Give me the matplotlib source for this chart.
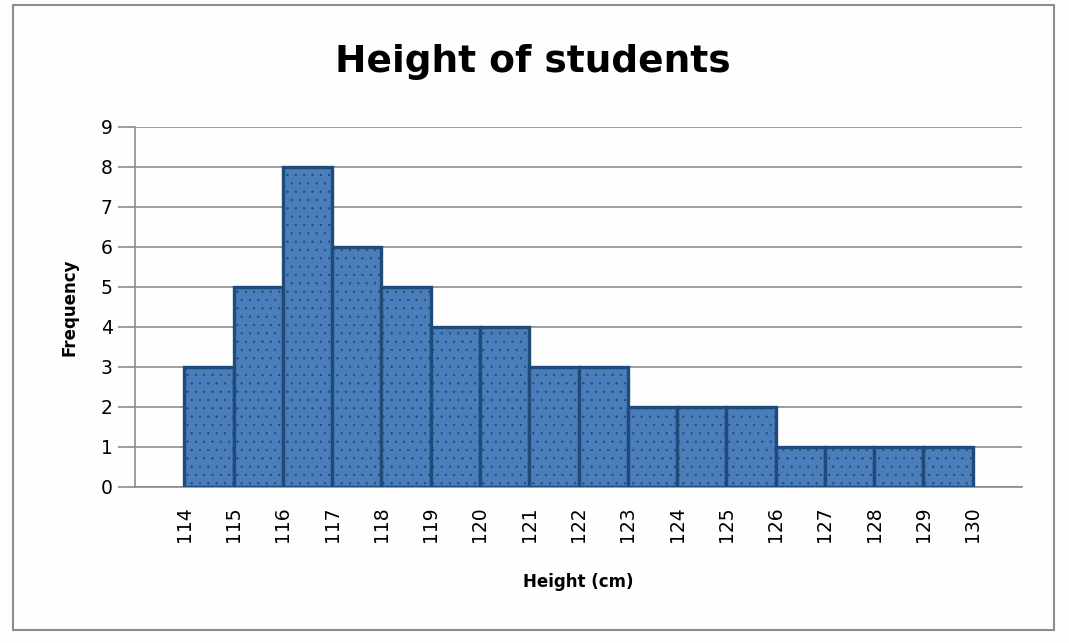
import matplotlib
matplotlib.use('Agg')
import matplotlib.pyplot as plt
from matplotlib.patches import Rectangle

# 데이터
bin_edges = list(range(114, 131))
frequency = [3, 5, 8, 6, 5, 4, 4, 3, 3, 2, 2, 2, 1, 1, 1, 1]
y_ticks = list(range(0, 10))

plt.rcParams['font.family'] = ['DejaVu Sans']
plt.rcParams['hatch.linewidth'] = 0.4

fig = plt.figure(figsize=(10.69, 6.43), dpi=100)
fig.patch.set_facecolor('#fdfefd')

# 바깥 테두리
fig.add_artist(Rectangle((13 / 1069, 1 - 630 / 643), (1054 - 13) / 1069, (630 - 5) / 643,
                         transform=fig.transFigure, fill=False, edgecolor='#8c8c8c', linewidth=1.5))

ax = fig.add_axes([135 / 1069, 1 - 487 / 643, (1022 - 135) / 1069, (487 - 127) / 643])
ax.set_facecolor('none')

ax.bar(bin_edges[:-1], frequency, width=1, align='edge', color='#4a7ebb',
       edgecolor='#1f4a7a', linewidth=2.4, hatch='..', zorder=3)

ax.set_xlim(113, 131)
ax.set_ylim(0, 9)
ax.set_xticks(bin_edges)
ax.set_xticklabels([str(v) for v in bin_edges], rotation=90, fontsize=13.5)
ax.set_yticks(y_ticks)
ax.set_yticklabels([str(v) for v in y_ticks], fontsize=13.5)
ax.tick_params(axis='x', length=0, pad=14)
ax.tick_params(axis='y', length=12, width=1.2, color='#8c8c8c', pad=4)

ax.grid(axis='y', color='#8c8c8c', linewidth=1.2, zorder=0)
for side in ['top', 'right']:
    ax.spines[side].set_visible(False)
ax.spines['left'].set_color('#8c8c8c')
ax.spines['left'].set_linewidth(1.2)
ax.spines['bottom'].set_color('#8c8c8c')
ax.spines['bottom'].set_linewidth(1.2)

fig.text(533 / 1069, 1 - 62 / 643, 'Height of students', ha='center', va='center',
         fontsize=27, fontweight='bold')
ax.set_xlabel('Height (cm)', fontsize=12, fontweight='bold', labelpad=22)
ax.set_ylabel('Frequency', fontsize=12, fontweight='bold', labelpad=16)

plt.savefig('out.png', dpi=100, facecolor=fig.get_facecolor())
plt.close()
